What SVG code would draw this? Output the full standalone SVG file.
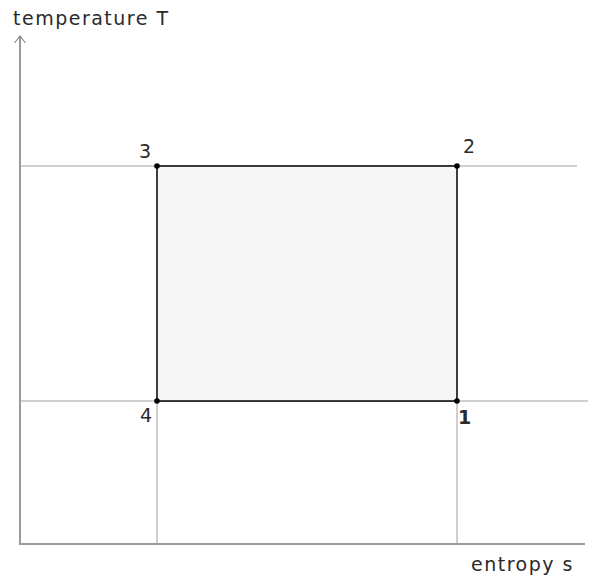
<svg xmlns="http://www.w3.org/2000/svg" width="591" height="577" viewBox="0 0 591 577">
<style>
.grid{stroke:#a0a0a0;stroke-width:1;fill:none}
.axis{stroke:#9a9a9a;stroke-width:2;fill:none}
.t{font-family:"DejaVu Sans",Verdana,sans-serif;font-size:19px;letter-spacing:1.5px;fill:#2a2a2a}
.pt{fill:#000}
</style>
<rect width="591" height="577" fill="#fff"/>
<g id="grid">
<line class="grid" x1="20" y1="166" x2="577" y2="166"/>
<line class="grid" x1="20" y1="401" x2="588" y2="401"/>
<line class="grid" x1="157" y1="401" x2="157" y2="544"/>
<line class="grid" x1="457" y1="401" x2="457" y2="544"/>
</g>
<g id="axes">
<line class="axis" x1="20" y1="36" x2="20" y2="544"/>
<line class="axis" x1="19" y1="544" x2="585" y2="544"/>
<path d="M14.5,43 L20,36 L25.5,43" stroke="#8a8a8a" stroke-width="1.2" fill="none"/>
<text class="t" x="13" y="25">temperature T</text>
<text class="t" x="471" y="571">entropy s</text>
</g>
<g id="cycle">
<rect x="157" y="166" width="300" height="235" fill="#f6f6f6" stroke="#000" stroke-width="1.5"/>
</g>
<g id="p1"><circle class="pt" cx="457" cy="401" r="2.8"/><text class="t" x="458" y="424" font-weight="bold">1</text></g>
<g id="p2"><circle class="pt" cx="457" cy="166" r="2.8"/><text class="t" x="463" y="153">2</text></g>
<g id="p3"><circle class="pt" cx="157" cy="166" r="2.8"/><text class="t" x="139" y="158">3</text></g>
<g id="p4"><circle class="pt" cx="157" cy="401" r="2.8"/><text class="t" x="140" y="422">4</text></g>
</svg>
